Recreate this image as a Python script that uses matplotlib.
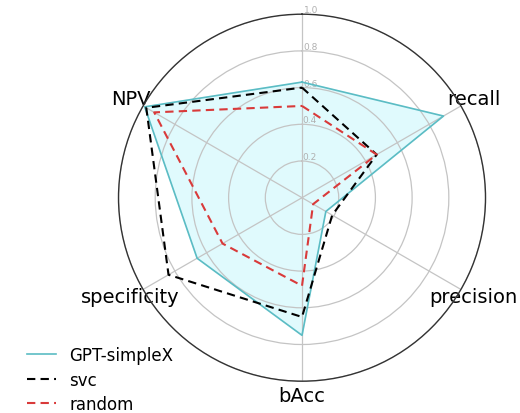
import numpy as np
import matplotlib
matplotlib.use("Agg")
import matplotlib.pyplot as plt

categories = ["", "recall", "precision", "bAcc", "specificity", "NPV"]
gpt_simplex = [0.63, 0.89, 0.15, 0.75, 0.66, 0.99]
svc = [0.60, 0.47, 0.19, 0.65, 0.84, 0.98]
random_clf = [0.50, 0.47, 0.07, 0.48, 0.50, 0.93]
r_ticks = [0.2, 0.4, 0.6, 0.8, 1.0]
r_tick_labels = ["0.2", "0.4", "0.6", "0.8", "1.0"]

n = len(categories)
angles = np.linspace(0, 2 * np.pi, n, endpoint=False).tolist()
angles_c = angles + angles[:1]

def close(v):
    return list(v) + [v[0]]

fig = plt.figure(figsize=(5.2, 4.14), dpi=100)
ax = fig.add_axes([0.2279, 0.0768, 0.7058, 0.8865], polar=True)
ax.set_theta_offset(np.pi / 2)
ax.set_theta_direction(-1)

ax.plot(angles_c, close(gpt_simplex), color="#5bbcc4", linewidth=1.2, label="GPT-simpleX")
ax.fill(angles_c, close(gpt_simplex), color="#e0fafd", alpha=1.0, zorder=0)
ax.plot(angles_c, close(svc), color="black", linewidth=1.5, linestyle=(0, (4, 2.5)), label="svc")
ax.plot(angles_c, close(random_clf), color="#d93a3a", linewidth=1.5, linestyle=(0, (4, 2.5)), label="random")

ax.set_ylim(0, 1.0)
ax.set_yticks(r_ticks)
ax.set_yticklabels(r_tick_labels, color="#b0b0b0", fontsize=6.5)
ax.set_rlabel_position(0.5)
ax.set_xticks(angles)
ax.set_xticklabels(categories, fontsize=14)
ax.tick_params(axis="x", pad=0)
ax.grid(color="#c4c4c4", linewidth=0.9)
ax.spines["polar"].set_color("#333333")
ax.spines["polar"].set_linewidth(1.0)

fig.legend(loc="upper left", bbox_to_anchor=(0.04, 0.178), frameon=False,
           fontsize=12, handlelength=1.7, labelspacing=0.4, borderaxespad=0)

fig.savefig("out.png", dpi=100)
